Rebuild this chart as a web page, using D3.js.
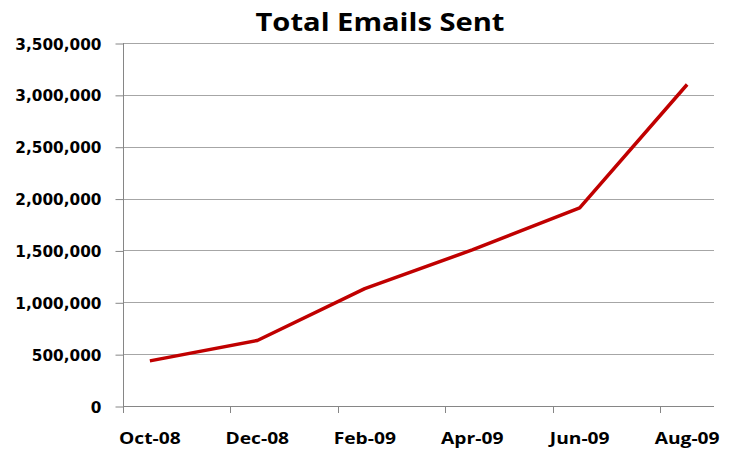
<!DOCTYPE html>
<meta charset="utf-8">
<style>
  body { margin: 0; background: #fff; }
</style>
<div id="chart"></div>
<script src="https://cdn.jsdelivr.net/npm/d3@7/dist/d3.min.js"></script>
<script>

// months on the date axis (one band per month)
var months = ["Oct-08", "Nov-08", "Dec-08", "Jan-09", "Feb-09", "Mar-09",
              "Apr-09", "May-09", "Jun-09", "Jul-09", "Aug-09"];
// months that carry a value (and a label)
var pointMonths = ["Oct-08", "Dec-08", "Feb-09", "Apr-09", "Jun-09", "Aug-09"];
var emailsSent = [435000, 632000, 1132000, 1505000, 1910000, 3100000];
var yTicks = [0, 500000, 1000000, 1500000, 2000000, 2500000, 3000000, 3500000];

var W = 737, H = 451;
var plot = {left: 123, right: 714, top: 43, bottom: 406};

var svg = d3.select("#chart").append("svg")
    .attr("width", W)
    .attr("height", H)
    .style("background-color", "#ffffff");

var x = d3.scaleBand()
    .domain(months)
    .range([plot.left, plot.right])
    .paddingInner(0).paddingOuter(0);

var y = d3.scaleLinear()
    .domain([0, 3500000])
    .range([plot.bottom, plot.top]);

// gridlines
svg.append("g")
  .selectAll("line")
  .data(yTicks.slice(1))
  .enter().append("line")
    .attr("x1", plot.left).attr("x2", plot.right)
    .attr("y1", function(d) { return Math.round(y(d)) + 0.5; })
    .attr("y2", function(d) { return Math.round(y(d)) + 0.5; })
    .attr("stroke", "#a6a6a6")
    .attr("stroke-width", 1);

// y axis
var yAxis = svg.append("g")
    .attr("transform", "translate(" + (plot.left + 0.5) + ",0.5)")
    .call(d3.axisLeft(y).tickValues(yTicks).tickSize(8).tickSizeOuter(0)
          .tickFormat(d3.format(",")));
yAxis.select(".domain").remove();
yAxis.selectAll(".tick line").attr("stroke", "#868686");
yAxis.selectAll(".tick text")
    .attr("x", -22)
    .attr("dy", "0.36em")
    .style("font-family", "DejaVu Sans")
    .style("font-weight", "bold")
    .style("font-size", "15.3px")
    .style("fill", "#000");

// y axis line, runs down to the x tick length
svg.append("line")
    .attr("x1", plot.left + 0.5).attr("x2", plot.left + 0.5)
    .attr("y1", plot.top).attr("y2", plot.bottom + 7)
    .attr("stroke", "#868686");

// x axis line
svg.append("line")
    .attr("x1", plot.left).attr("x2", plot.right)
    .attr("y1", Math.round(plot.bottom) + 0.5).attr("y2", Math.round(plot.bottom) + 0.5)
    .attr("stroke", "#868686");

// x ticks at the start of every labelled month
svg.append("g")
  .selectAll("line")
  .data(pointMonths)
  .enter().append("line")
    .attr("x1", function(d) { return Math.round(x(d)) + 0.5; })
    .attr("x2", function(d) { return Math.round(x(d)) + 0.5; })
    .attr("y1", plot.bottom)
    .attr("y2", plot.bottom + 7)
    .attr("stroke", "#868686");

// x labels
var stretch = 1.24;
svg.append("g")
  .selectAll("text")
  .data(pointMonths)
  .enter().append("text")
    .attr("x", function(d) { return x(d) + x.bandwidth() / 2; })
    .attr("y", 444)
    .attr("text-anchor", "middle")
    .style("font-family", "Open Sans")
    .style("font-weight", "bold")
    .style("font-size", "15.5px")
    .style("fill", "#000")
    .text(function(d) { return d; })
    .each(function() {
      var w = this.getComputedTextLength();
      d3.select(this).attr("textLength", w * stretch).attr("lengthAdjust", "spacingAndGlyphs");
    });

// the line
var line = d3.line()
    .x(function(d, i) { return x(pointMonths[i]) + x.bandwidth() / 2; })
    .y(function(d) { return y(d); });

svg.append("path")
    .datum(emailsSent)
    .attr("d", line)
    .attr("fill", "none")
    .attr("stroke", "#c00000")
    .attr("stroke-width", 3.5)
    .attr("stroke-linejoin", "round");

// title
svg.append("text")
    .attr("x", 380)
    .attr("y", 31)
    .attr("text-anchor", "middle")
    .attr("textLength", 249)
    .attr("lengthAdjust", "spacingAndGlyphs")
    .style("font-family", "Open Sans")
    .style("font-weight", "bold")
    .style("font-size", "25px")
    .style("fill", "#000")
    .text("Total Emails Sent");

</script>
